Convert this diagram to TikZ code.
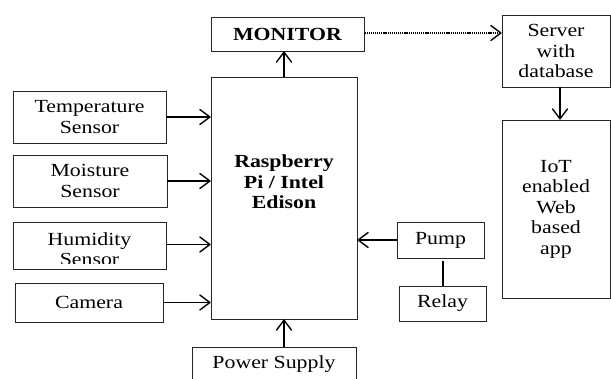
\documentclass[tikz,border=0pt]{standalone}
\usepackage{fontspec}
\setmainfont{Liberation Serif}[FakeStretch=1.18]
\usetikzlibrary{arrows.meta}
\begin{document}
\begin{tikzpicture}[x=1pt,y=-1pt,
  box/.style={draw=black!85,line width=0.9pt,align=center,inner sep=0pt,
    font=\fontsize{18.5}{20.5}\selectfont},
  tip/.style={-{Straight Barb[length=10pt,width=15pt,line width=1.4pt,round]}},
  conn/.style={line width=1.4pt,tip},
  dotconn/.style={line width=1.2pt,dash pattern=on 1.2pt off 0.9pt,tip}]
\useasboundingbox (0,0) rectangle (611,378);
\clip (0,0) rectangle (611,378);
\node[box,minimum width=153pt,minimum height=34pt] (monitor) at (287.5,34) {\textbf{MONITOR}};
\node[box,minimum width=146pt,minimum height=242pt] (main) at (284,198) {};
\node[font=\fontsize{18.5}{20.5}\selectfont\bfseries,align=center] (maintext) at (284,182) {Raspberry\\Pi / Intel\\Edison};
\node[box,minimum width=153pt,minimum height=52pt] (temp) at (89.5,117) {Temperature\\Sensor};
\node[box,minimum width=154pt,minimum height=52pt] (moist) at (90,181) {Moisture\\Sensor};
\node[box,minimum width=153pt,minimum height=47pt] (humid) at (89.5,245.5) {};
\node[font=\fontsize{18.5}{20.5}\selectfont,align=center] (humidtext) at (89.5,249) {Humidity\\Sensor};
\fill[white] (15,263.5) rectangle (164,268.3);
\node[box,minimum width=148pt,minimum height=39pt] (camera) at (89,302.5) {Camera};
\node[box,minimum width=164pt,minimum height=46pt] (power) at (274,370) {};
\node[font=\fontsize{18.5}{20.5}\selectfont] (powertext) at (274,364) {Power Supply};
\node[box,minimum width=108pt,minimum height=72pt] (server) at (556,51) {Server\\with\\database};
\node[box,minimum width=108pt,minimum height=178pt] (iot) at (556,209) {IoT\\enabled\\Web\\based\\app};
\node[box,minimum width=87pt,minimum height=36pt] (pump) at (440.5,240) {Pump};
\node[box,minimum width=87pt,minimum height=35pt] (relay) at (442.5,303.5) {Relay};
\draw[conn] (main.north) -- (main.north |- monitor.south);
\draw[conn] (temp.east) -- (temp.east -| main.west);
\draw[conn] (moist.east) -- (moist.east -| main.west);
\draw[conn] ([yshift=1pt]humid.east) -- ([yshift=1pt]humid.east -| main.west);
\draw[conn] (camera.east) -- (camera.east -| main.west);
\draw[conn] (pump.west) -- (pump.west -| main.east);
\draw[conn] (main.south |- power.north) -- (main.south);
\draw[conn] ([xshift=4pt]server.south) -- ([xshift=4pt]iot.north);
\draw[dotconn] ([yshift=1pt]monitor.east) -- ([yshift=1pt]monitor.east -| server.west);
\draw[line width=2pt] (relay.north) -- ([yshift=-3pt]pump.south -| relay.north);
\end{tikzpicture}
\end{document}
